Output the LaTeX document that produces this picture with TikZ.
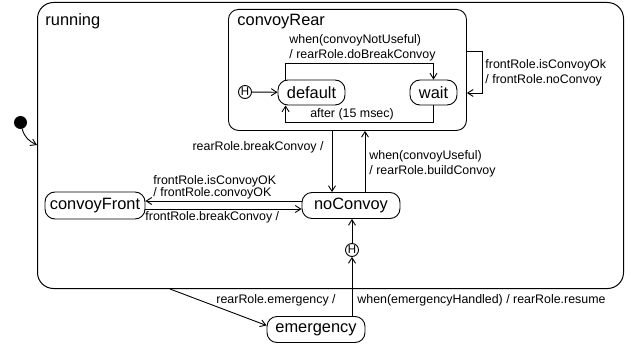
\documentclass[tikz,border=0pt]{standalone}
\usepackage{fontspec}
\setmainfont{Liberation Sans}
\usetikzlibrary{arrows.meta}

\tikzset{
  state/.style={draw, rounded corners=10pt, inner sep=0pt, font=\fontsize{16.4}{18}\selectfont},
  lbl/.style={inner sep=0pt, align=left, font=\fontsize{12.4}{14.5}\selectfont},
  hist/.style={draw, circle, inner sep=0pt, minimum size=13pt, font=\fontsize{11.5}{11.5}\selectfont},
  trans/.style={->},
}

\begin{document}
\begin{tikzpicture}[x=1pt, y=1pt, line width=0.9pt, >={Straight Barb[length=5.5pt,width=7pt]}]
      \useasboundingbox (0,0) rectangle (631,-345);

      \node[draw, line width=1pt, rounded corners=16pt, minimum width=586pt, minimum height=286pt, anchor=north west] (running) at (37,-2) {};
      \node[anchor=base west, inner sep=0pt, font=\fontsize{16.4}{18}\selectfont] (runningLbl) at (45,-26) {running};

      \node[draw, rounded corners=10pt, minimum width=238pt, minimum height=121pt, anchor=north west] (rear) at (228,-9) {};
      \node[anchor=base west, inner sep=0pt, font=\fontsize{16.4}{18}\selectfont] (rearLbl) at (237,-26) {convoyRear};

      \node[hist] (h1) at (245,-92) {H};
      \node[state, minimum width=67pt, minimum height=25pt] (default) at (311.5,-92.5) {default};
      \node[state, minimum width=47pt, minimum height=25pt] (wait) at (433.5,-92.5) {wait};

      \node[state, minimum width=98pt, minimum height=26pt] (noConvoy) at (351,-205.5) {noConvoy};
      \node[state, minimum width=100pt, minimum height=27pt] (convoyFront) at (95,-205.5) {convoyFront};
      \node[hist] (h2) at (352,-250) {H};
      \node[state, minimum width=98pt, minimum height=26pt] (emergency) at (316,-329.5) {emergency};

      \node[fill, circle, inner sep=0pt, minimum size=13pt] (init) at (20.5,-122.5) {};

      \coordinate (brk) at (332,0);
      \coordinate (bld) at (365,0);

      \draw[trans] (init) to[out=-75, in=155] ([yshift=-143]running.north west);
      \draw[trans] (h1) -- (default);
      \draw[trans] ([xshift=8]default.north west) |- ([yshift=16]wait.north) -- (wait.north);
      \draw[trans] (wait.south) -- ++(0,-17) -| ([xshift=8]default.south west);
      \draw[trans] ([yshift=-42]rear.north east) -- ++(16,0) |- ([yshift=-84]rear.north east);
      \draw[trans] (rear.south -| brk) -- (noConvoy.north -| brk);
      \draw[trans] (noConvoy.north -| bld) -- (rear.south -| bld);
      \draw[trans] ([yshift=4.5]noConvoy.west) -- ([yshift=4.5]convoyFront.east);
      \draw[trans] ([yshift=-3.5]convoyFront.east) -- ([yshift=-3.5]noConvoy.west);
      \draw[trans] (h2) -- (noConvoy.south -| h2);
      \draw[trans] (emergency.north -| h2) -- (h2);
      \draw[trans] ([xshift=133]running.south west) -- ([yshift=4]emergency.west);

      \node[lbl, anchor=west] (l1) at (289,-48) {when(convoyNotUseful)\\/ rearRole.doBreakConvoy};
      \node[lbl] (l2) at (352,-114) {after (15 msec)};
      \node[lbl, anchor=west] (l3) at (485,-73) {frontRole.isConvoyOk\\/ frontRole.noConvoy};
      \node[lbl, anchor=east] (l4) at (324,-147) {rearRole.breakConvoy /};
      \node[lbl, anchor=west] (l5) at (369,-164) {when(convoyUseful)\\/ rearRole.buildConvoy};
      \node[lbl, anchor=west, font=\fontsize{12.4}{12}\selectfont] (l6) at (153,-187) {frontRole.isConvoyOK\\/ frontRole.convoyOK};
      \node[lbl, anchor=west] (l7) at (145,-217) {frontRole.breakConvoy /};
      \node[lbl, anchor=west] (l8) at (216,-300) {rearRole.emergency /};
      \node[lbl, anchor=west] (l9) at (357,-300) {when(emergencyHandled) / rearRole.resume};
\end{tikzpicture}
\end{document}
